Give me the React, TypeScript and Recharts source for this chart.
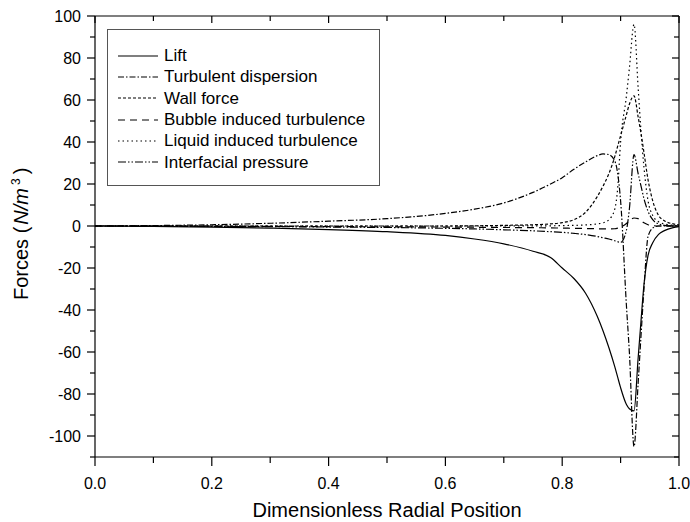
import React from 'react';
import { LineChart, Line, XAxis, YAxis, Legend, ReferenceLine } from 'recharts';

const FONT = 'Arial, "Liberation Sans", sans-serif';

// chart box
const WIDTH = 690;
const HEIGHT = 522;
const MARGIN = { top: 16, right: 11, bottom: 5, left: 15 };
const PLOT_TOP = MARGIN.top;
const PLOT_RIGHT = WIDTH - MARGIN.right;

// radial positions (shared by every series)
const radius = [
  0, 0.05, 0.1, 0.2, 0.3, 0.4, 0.5, 0.6, 0.65, 0.7, 0.75, 0.78, 0.8, 0.82, 0.84, 0.86, 0.87,
  0.88, 0.89, 0.895, 0.9, 0.91, 0.915, 0.923, 0.93, 0.935, 0.94, 0.947, 0.955, 0.965, 0.975, 0.99, 1.0,
];

const lift = [
  0, -0.1, -0.2, -0.5, -1, -1.7, -2.7, -4.5, -6.2, -8.5, -12, -15, -20, -25, -32, -43, -50,
  -58, -67, -72, -77, -85, -87, -88, -63, -45, -28, -14, -8, -4, -2.2, -0.8, -0.3,
];

const turbulentDispersion = [
  0, 0.1, 0.2, 0.6, 1.3, 2.3, 3.5, 6, 8, 11, 16, 20, 23, 27, 30.5, 33.5, 34.3,
  34, 31, 25, 12, -38, -60, -105, -75, -52, -30, -5, -1, 0, 0, 0, 0,
];

const wallForce = [
  0, 0, 0, 0, 0, 0, 0, 0, 0.1, 0.3, 0.6, 1, 1.6, 3, 6.5, 14, 19,
  25, 33, 38, 43, 53, 58, 62, 52, 44, 35, 22, 12, 5, 2.5, 1, 0.5,
];

const bubbleInduced = [
  0, 0, 0, -0.1, -0.2, -0.3, -0.4, -0.5, -0.6, -0.7, -0.8, -0.9, -1, -1.1, -1.2, -1.3, -1.4,
  -1.4, -1.3, -1, -0.5, 1.2, 2.5, 3.8, 3.5, 2.5, 1.5, 0.6, 0.2, 0, 0, 0, 0,
];

const liquidInduced = [
  0, 0, 0, 0, 0, 0, 0, 0, 0, 0.1, 0.1, 0.1, 0.2, 0.3, 0.5, 1, 1.5,
  3, 8, 18, 40, 62, 75, 96, 66, 45, 28, 12, 5, 2, 1, 0.3, 0,
];

const interfacialPressure = [
  0, 0, -0.1, -0.2, -0.3, -0.5, -0.7, -1.1, -1.4, -1.8, -2.3, -2.7, -3, -3.5, -4.1, -5, -5.6,
  -6.2, -7, -7.5, -7.8, -2, 8, 34, 25, 19, 13, 7, 3, 1, 0.3, 0, 0,
];

const xTicks = [0, 0.1, 0.2, 0.3, 0.4, 0.5, 0.6, 0.7, 0.8, 0.9, 1.0];
const yTicks = [-110, -100, -90, -80, -70, -60, -50, -40, -30, -20, -10, 0, 10, 20, 30, 40, 50, 60, 70, 80, 90, 100];

const series = [
  { key: 'lift', name: 'Lift', values: lift, dash: undefined },
  { key: 'td', name: 'Turbulent dispersion', values: turbulentDispersion, dash: '6 2 1.5 2' },
  { key: 'wall', name: 'Wall force', values: wallForce, dash: '3 2' },
  { key: 'bit', name: 'Bubble induced turbulence', values: bubbleInduced, dash: '7 5' },
  { key: 'lit', name: 'Liquid induced turbulence', values: liquidInduced, dash: '1.5 3' },
  { key: 'ip', name: 'Interfacial pressure', values: interfacialPressure, dash: '8 2 1.5 2 1.5 2' },
];

const data = radius.map((r, i) => {
  const row: Record<string, number> = { r };
  series.forEach((s) => {
    row[s.key] = s.values[i];
  });
  return row;
});

const isMajorX = (v: number) => Math.round(v * 10) % 2 === 0;
const isMajorY = (v: number) => Math.round(v) % 20 === 0;

// bottom tick (outward, with label) plus the matching inward tick on the top frame
const XTick = (props: any) => {
  const { x, y, payload } = props;
  const major = isMajorX(payload.value);
  return (
    <g>
      <line x1={x} x2={x} y1={y} y2={y + (major ? 9 : 6)} stroke="#000" strokeWidth={1.2} />
      <line x1={x} x2={x} y1={PLOT_TOP} y2={PLOT_TOP + (major ? 7 : 5)} stroke="#000" strokeWidth={1.2} />
      {major && (
        <text x={x} y={y + 32} textAnchor="middle" fontSize={16} fontFamily={FONT} fill="#000">
          {payload.value.toFixed(1)}
        </text>
      )}
    </g>
  );
};

// left tick (outward, with label) plus the matching inward tick on the right frame
const YTick = (props: any) => {
  const { x, y, payload } = props;
  const major = isMajorY(payload.value);
  return (
    <g>
      <line x1={x - (major ? 8 : 5)} x2={x} y1={y} y2={y} stroke="#000" strokeWidth={1.2} />
      <line x1={PLOT_RIGHT - (major ? 7 : 5)} x2={PLOT_RIGHT} y1={y} y2={y} stroke="#000" strokeWidth={1.2} />
      {major && payload.value >= -100 && (
        <text x={x - 14} y={y + 5.5} textAnchor="end" fontSize={16} fontFamily={FONT} fill="#000">
          {payload.value}
        </text>
      )}
    </g>
  );
};

const YTitle = () => (
  <text transform="translate(28, 300) rotate(-90)" fontSize={20} fontFamily={FONT} fill="#000">
    Forces (
    <tspan dx={2} fontStyle="italic">N/m</tspan>
    <tspan dx={3} dy={-8} fontSize={12}>3</tspan>
    <tspan dx={4} dy={8}>)</tspan>
  </text>
);

const XTitle = () => (
  <text x={387} y={517} textAnchor="middle" fontSize={20} fontFamily={FONT} fill="#000">
    Dimensionless Radial Position
  </text>
);

const LegendBox = () => (
  <div
    style={{
      width: 273,
      height: 157,
      boxSizing: 'border-box',
      border: '1px solid #555',
      background: '#fff',
      paddingTop: 15,
      paddingLeft: 10,
      fontFamily: FONT,
      fontSize: 17,
      color: '#000',
    }}
  >
    {series.map((s) => (
      <div key={s.key} style={{ display: 'flex', alignItems: 'center', height: 21.3 }}>
        <svg width={40} height={10} style={{ marginRight: 6 }}>
          <line x1={0} x2={40} y1={5} y2={5} stroke="#000" strokeWidth={1.2} strokeDasharray={s.dash} />
        </svg>
        <span style={{ lineHeight: '21px', whiteSpace: 'nowrap' }}>{s.name}</span>
      </div>
    ))}
  </div>
);

export default function App() {
  return (
    <div style={{ position: 'absolute', left: 0, top: 0, background: '#fff' }}>
      <LineChart width={WIDTH} height={HEIGHT} data={data} margin={MARGIN}>
        <XAxis
          dataKey="r"
          type="number"
          domain={[0, 1]}
          ticks={xTicks}
          interval={0}
          height={60}
          tickSize={0}
          tickMargin={0}
          tickLine={false}
          tick={XTick}
          allowDataOverflow
          axisLine={{ stroke: '#000', strokeWidth: 1.2 }}
          label={<XTitle />}
        />
        <YAxis
          type="number"
          domain={[-110, 100]}
          ticks={yTicks}
          interval={0}
          width={80}
          tickSize={0}
          tickMargin={0}
          tickLine={false}
          tick={YTick}
          allowDataOverflow
          axisLine={{ stroke: '#000', strokeWidth: 1.2 }}
          label={<YTitle />}
        />
        {/* top and right frame */}
        <ReferenceLine y={100} stroke="#000" strokeWidth={1.2} />
        <ReferenceLine x={1} stroke="#000" strokeWidth={1.2} />
        <Legend
          layout="vertical"
          align="center"
          verticalAlign="middle"
          content={<LegendBox />}
          wrapperStyle={{ left: 107, top: 29, width: 273, height: 157 }}
        />
        {series.map((s) => (
          <Line
            key={s.key}
            dataKey={s.key}
            name={s.name}
            type="monotone"
            stroke="#000"
            strokeWidth={1.2}
            strokeDasharray={s.dash}
            dot={false}
            activeDot={false}
            isAnimationActive={false}
          />
        ))}
      </LineChart>
    </div>
  );
}
